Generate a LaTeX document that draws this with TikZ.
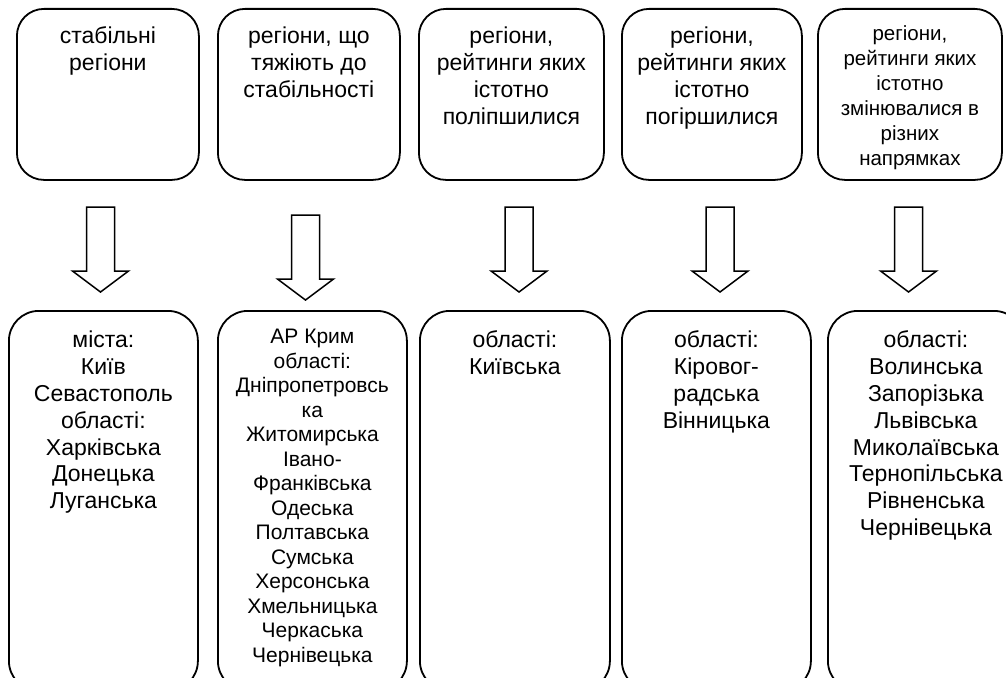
\documentclass[tikz,border=0pt]{standalone}
\usepackage{fontspec}
\setmainfont{Liberation Sans}

\newcommand{\bigfont}{\fontsize{23}{26.8}\selectfont}
\newcommand{\midfont}{\fontsize{20.5}{25}\selectfont}
\newcommand{\listfont}{\fontsize{21}{24.5}\selectfont}
\newcommand{\celltext}[5]{\parbox[c][#2][t]{#1}{#4\centering\vspace*{#3}\strut #5}}

\begin{document}
\begin{tikzpicture}[x=1pt,y=-1pt,
    box/.style={draw=black, line width=1.8pt, inner sep=0pt, anchor=north west},
    topbox/.style={box, rounded corners=27pt},
    lowbox/.style={box, rounded corners=30pt},
    blockarrow/.style={draw=black, line width=1.5pt, line join=miter}]
            \useasboundingbox (0,0) rectangle (1006,677);
            \clip (0,0) rectangle (1006,677);

            \node[topbox] (t1) at (16,8) {\celltext{182pt}{171pt}{16.2pt}{\bigfont}{стабільні\\регіони}};
            \node[topbox] (t2) at (217,8) {\celltext{182pt}{171pt}{16.2pt}{\bigfont}{регіони, що\\тяжіють до\\стабільності}};
            \node[topbox] (t3) at (418,8) {\celltext{185pt}{171pt}{16.2pt}{\bigfont}{регіони,\\рейтинги яких\\істотно\\поліпшилися}};
            \node[topbox] (t4) at (621,8) {\celltext{180pt}{171pt}{16.2pt}{\bigfont}{регіони,\\рейтинги яких\\істотно\\погіршилися}};
            \node[topbox] (t5) at (817,8) {\celltext{184pt}{171pt}{14.5pt}{\midfont}{регіони,\\рейтинги яких\\істотно\\змінювалися в\\різних\\напрямках}};

            \coordinate (a1) at (100.5,207);
            \coordinate (a2) at (305.5,215);
            \coordinate (a3) at (519,207);
            \coordinate (a4) at (720,207);
            \coordinate (a5) at (908.5,207);

            \draw[blockarrow] (a1) ++(-14,0) -- ++(0,64) -- ++(-14,0) -- ++(28,21) -- ++(28,-21) -- ++(-14,0) -- ++(0,-64) -- cycle;
            \draw[blockarrow] (a2) ++(-14,0) -- ++(0,64) -- ++(-14,0) -- ++(28,21) -- ++(28,-21) -- ++(-14,0) -- ++(0,-64) -- cycle;
            \draw[blockarrow] (a3) ++(-14,0) -- ++(0,64) -- ++(-14,0) -- ++(28,21) -- ++(28,-21) -- ++(-14,0) -- ++(0,-64) -- cycle;
            \draw[blockarrow] (a4) ++(-14,0) -- ++(0,64) -- ++(-14,0) -- ++(28,21) -- ++(28,-21) -- ++(-14,0) -- ++(0,-64) -- cycle;
            \draw[blockarrow] (a5) ++(-14,0) -- ++(0,64) -- ++(-14,0) -- ++(28,21) -- ++(28,-21) -- ++(-14,0) -- ++(0,-64) -- cycle;

            \node[lowbox] (b1) at (8,310) {\celltext{189pt}{380pt}{18.2pt}{\bigfont}{міста:\\Київ\\Севастополь\\області:\\Харківська\\Донецька\\Луганська}};
            \node[lowbox] (b2) at (217,310) {\celltext{189pt}{380pt}{15.9pt}{\listfont}{АР Крим\\області:\\Дніпропетровсь\\ка\\Житомирська\\Івано-\\Франківська\\Одеська\\Полтавська\\Сумська\\Херсонська\\Хмельницька\\Черкаська\\Чернівецька}};
            \node[lowbox] (b3) at (419,310) {\celltext{190pt}{380pt}{18.2pt}{\bigfont}{області:\\Київська}};
            \node[lowbox] (b4) at (621,310) {\celltext{189pt}{380pt}{18.2pt}{\bigfont}{області:\\Кіровог-\\радська\\Вінницька}};
            \node[lowbox] (b5) at (827,310) {\celltext{196pt}{380pt}{18.2pt}{\bigfont}{області:\\Волинська\\Запорізька\\Львівська\\Миколаївська\\Тернопільська\\Рівненська\\Чернівецька}};
        \end{tikzpicture}
\end{document}
